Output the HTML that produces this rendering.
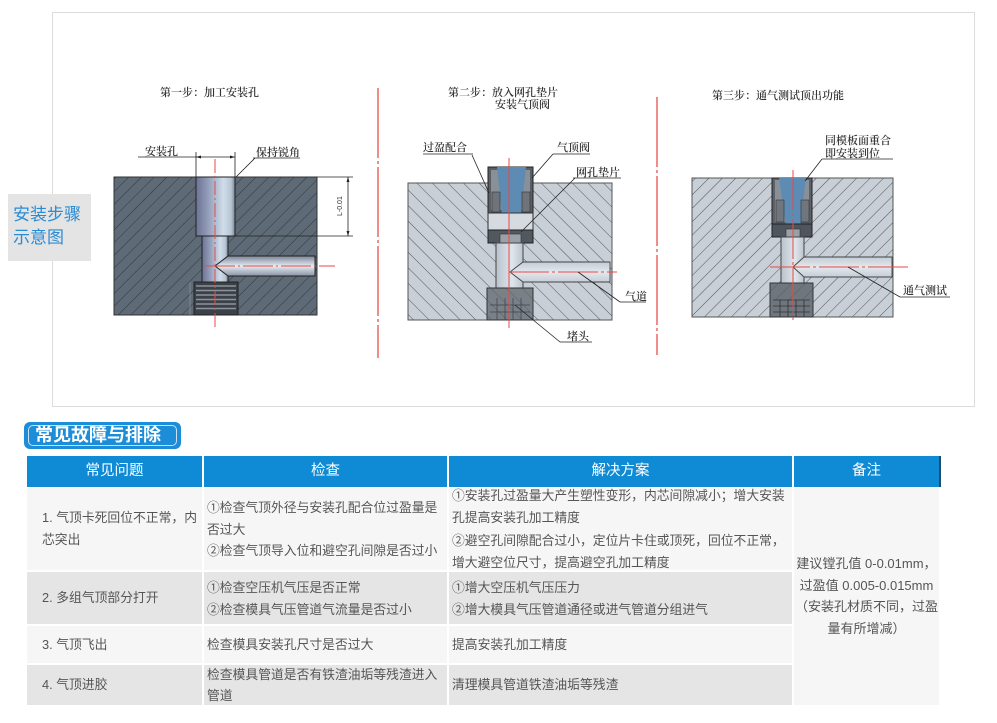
<!DOCTYPE html>
<html><head><meta charset="utf-8">
<style>
html,body{margin:0;padding:0;}
body{width:997px;height:723px;position:relative;overflow:hidden;background:#fff;font-family:"Liberation Sans","Noto Sans CJK SC",sans-serif;}
.abs{position:absolute;}
.lbl{left:8px;top:194px;width:83px;height:67px;background:#e4e4e4;color:#2a8bd5;font-size:17px;line-height:23px;padding:9px 0 0 5px;box-sizing:border-box;}
.badge{left:24px;top:422px;width:157px;height:27px;background:#1c8dd8;border-radius:6px;}
.badge .in{position:absolute;left:4px;top:3px;right:4px;bottom:3px;border:1px solid rgba(255,255,255,.75);border-radius:5px;}
.badge .t{position:absolute;left:11px;top:0;line-height:27px;color:#fff;font-size:18px;font-weight:bold;white-space:nowrap;}
.hd{top:456px;height:31px;background:#0f8bd5;color:#fff;font-size:14.5px;line-height:31px;text-align:center;}
.cell{position:absolute;}
.tx{position:absolute;color:#555;font-size:12.8px;white-space:nowrap;}
</style></head><body>

<svg class="abs" style="left:0;top:0" width="997" height="410" viewBox="0 0 997 410">
<defs>
<pattern id="h1" width="9" height="9" patternUnits="userSpaceOnUse" patternTransform="rotate(45)"><line x1="0" y1="0" x2="0" y2="9" stroke="#2c3640" stroke-width="1"/></pattern>
<pattern id="h2" width="11" height="11" patternUnits="userSpaceOnUse" patternTransform="rotate(-45)"><line x1="0" y1="0" x2="0" y2="11" stroke="#505459" stroke-width="1"/></pattern>
<pattern id="h3" width="9.5" height="9.5" patternUnits="userSpaceOnUse" patternTransform="rotate(45)"><line x1="0" y1="0" x2="0" y2="9.5" stroke="#505459" stroke-width="1"/></pattern>
<linearGradient id="g1" x1="0" x2="1" y1="0" y2="0">
<stop offset="0" stop-color="#6c7293"/><stop offset="0.35" stop-color="#98a4bf"/><stop offset="0.7" stop-color="#d0dde9"/><stop offset="0.9" stop-color="#b7c5d4"/><stop offset="1" stop-color="#7b8696"/></linearGradient>
<linearGradient id="g2" x1="0" x2="0" y1="0" y2="1">
<stop offset="0" stop-color="#7a8498"/><stop offset="0.5" stop-color="#e4ecf3"/><stop offset="1" stop-color="#8893a4"/></linearGradient>
<linearGradient id="g3" x1="0" x2="1" y1="0" y2="0">
<stop offset="0" stop-color="#b9c3cd"/><stop offset="0.6" stop-color="#dfe5eb"/><stop offset="1" stop-color="#bcc5ce"/></linearGradient>
<linearGradient id="g4" x1="0" x2="0" y1="0" y2="1">
<stop offset="0" stop-color="#c3ccd5"/><stop offset="0.5" stop-color="#e3e8ed"/><stop offset="1" stop-color="#c5cdd6"/></linearGradient>
</defs>

<rect x="52.5" y="12.5" width="922" height="394" fill="none" stroke="#dcdcdc" stroke-width="1"/>

<line x1="378" y1="88" x2="378" y2="358" stroke="#e8403a" stroke-width="1.2" stroke-dasharray="70,3,3,3"/>
<line x1="657" y1="97" x2="657" y2="355" stroke="#e8403a" stroke-width="1.2" stroke-dasharray="70,3,3,3"/>

<g font-family="'Noto Serif CJK SC','Noto Sans CJK SC',serif" font-size="11" fill="#333" font-weight="600">
<text x="160" y="96">第一步：加工安装孔</text>
<rect x="114" y="177" width="203" height="138" fill="#5e6b77"/>
<rect x="114" y="177" width="203" height="138" fill="url(#h1)"/>
<rect x="114" y="177" width="203" height="138" fill="none" stroke="#333" stroke-width="1"/>
<rect x="196" y="177" width="39" height="59" fill="url(#g1)" stroke="#222" stroke-width="1"/>
<rect x="202" y="236" width="26" height="46" fill="url(#g1)" stroke="#222" stroke-width="1"/>
<polygon points="228,256 315,256 315,276 228,276 215,266" fill="url(#g2)" stroke="#222" stroke-width="1"/>
<rect x="194" y="282" width="44" height="33" fill="#3c4148" stroke="#222"/>
<g stroke="#8d949d" stroke-width="1.6">
<line x1="196" y1="286" x2="236" y2="286"/><line x1="196" y1="290.5" x2="236" y2="290.5"/><line x1="196" y1="295" x2="236" y2="295"/><line x1="196" y1="299.5" x2="236" y2="299.5"/><line x1="196" y1="304" x2="236" y2="304"/><line x1="196" y1="308.5" x2="236" y2="308.5"/>
</g>
<line x1="190" y1="282" x2="190" y2="315" stroke="#999" stroke-width="0.6"/>
<line x1="215" y1="159" x2="215" y2="330" stroke="#ea4a44" stroke-width="1" stroke-dasharray="14,3,2,3"/>
<line x1="205" y1="266" x2="335" y2="266" stroke="#ea4a44" stroke-width="1" stroke-dasharray="30,3,2,3"/>
<g stroke="#222" stroke-width="0.8" fill="none">
<line x1="196" y1="152" x2="196" y2="177"/><line x1="235" y1="152" x2="235" y2="177"/>
<line x1="138" y1="157" x2="235" y2="157"/>
<line x1="253" y1="158" x2="300" y2="158"/><line x1="255" y1="158" x2="236" y2="177"/>
<line x1="317" y1="177" x2="353" y2="177"/><line x1="235" y1="236" x2="353" y2="236"/>
<line x1="348" y1="177" x2="348" y2="236"/>
</g>
<polygon points="196,157 201,155.5 201,158.5" fill="#222"/><polygon points="235,157 230,155.5 230,158.5" fill="#222"/>
<polygon points="348,177 346.5,182 349.5,182" fill="#222"/><polygon points="348,236 346.5,231 349.5,231" fill="#222"/>
<text x="145" y="155">安装孔</text>
<text x="256" y="156">保持锐角</text>
<text x="0" y="0" font-size="7" font-family="'Liberation Sans',sans-serif" font-weight="normal" transform="translate(342 216) rotate(-90)">L-0.01</text>

<text x="448" y="96">第二步：放入网孔垫片</text>
<text x="495" y="108">安装气顶阀</text>
<rect x="408" y="183" width="204" height="137" fill="#c9cfd6"/>
<rect x="408" y="183" width="204" height="137" fill="url(#h2)"/>
<rect x="408" y="183" width="204" height="137" fill="none" stroke="#555" stroke-width="1"/>
<rect x="488" y="167" width="45" height="46" fill="#5a5f66" stroke="#222"/>
<rect x="491" y="170" width="39" height="40" fill="#8a9097"/>
<polygon points="497,167 526,167 521,213 502,213" fill="#5d8bb4"/>
<rect x="492" y="192" width="8" height="20" fill="#6e747b" stroke="#333" stroke-width="0.6"/>
<rect x="522" y="192" width="8" height="20" fill="#6e747b" stroke="#333" stroke-width="0.6"/>
<rect x="488" y="213" width="45" height="17" fill="#d5dbe1" stroke="#333"/>
<rect x="488" y="230" width="45" height="13" fill="#52585f" stroke="#222"/>
<rect x="500" y="234" width="21" height="9" fill="#9aa0a7" stroke="#333" stroke-width="0.6"/>
<rect x="496" y="243" width="27" height="45" fill="url(#g3)" stroke="#444"/>
<polygon points="523,262 610,262 610,282 523,282 510,272" fill="url(#g4)" stroke="#444" stroke-width="0.9"/>
<rect x="487" y="288" width="46" height="32" fill="#7a8087" stroke="#333"/>
<rect x="487" y="288" width="46" height="32" fill="url(#h2)" opacity="0.7"/>
<g stroke="#3e4349" stroke-width="0.7"><line x1="497" y1="298" x2="497" y2="320"/><line x1="505" y1="298" x2="505" y2="320"/><line x1="513" y1="298" x2="513" y2="320"/><line x1="521" y1="298" x2="521" y2="320"/><line x1="490" y1="305" x2="530" y2="305"/><line x1="490" y1="312" x2="530" y2="312"/></g>
<line x1="509" y1="158" x2="509" y2="328" stroke="#ea4a44" stroke-width="1"/>
<line x1="509" y1="272" x2="617" y2="272" stroke="#ea4a44" stroke-width="1" stroke-dasharray="40,3,3,3"/>
<g stroke="#222" stroke-width="0.8" fill="none">
<line x1="423" y1="154" x2="473" y2="154"/><line x1="472" y1="155" x2="489" y2="193"/>
<line x1="553" y1="154" x2="590" y2="154"/><line x1="553" y1="154" x2="532" y2="178"/>
<line x1="573" y1="178" x2="621" y2="178"/><line x1="575" y1="178" x2="521" y2="232"/>
<line x1="620" y1="302" x2="646" y2="302"/><line x1="620" y1="302" x2="578" y2="272"/>
<line x1="560" y1="342" x2="592" y2="342"/><line x1="560" y1="342" x2="515" y2="305"/>
</g>
<text x="423" y="151">过盈配合</text>
<text x="557" y="151">气顶阀</text>
<text x="576" y="176">网孔垫片</text>
<text x="625" y="300">气道</text>
<text x="567" y="340">堵头</text>

<text x="712" y="99">第三步：通气测试顶出功能</text>
<rect x="692" y="178" width="201" height="139" fill="#c8cfd7"/>
<rect x="692" y="178" width="201" height="139" fill="url(#h3)"/>
<rect x="692" y="178" width="201" height="139" fill="none" stroke="#555" stroke-width="1"/>
<rect x="772" y="178" width="40" height="59" fill="#5d6269" stroke="#222"/>
<rect x="775" y="180" width="34" height="42" fill="#8a9097"/>
<polygon points="779,178 806,178 800,226 786,226" fill="#5d8bb4"/>
<rect x="776" y="200" width="8" height="22" fill="#70767d" stroke="#333" stroke-width="0.6"/>
<rect x="801" y="200" width="8" height="22" fill="#70767d" stroke="#333" stroke-width="0.6"/>
<rect x="772" y="224" width="40" height="13" fill="#4f555c" stroke="#222"/>
<rect x="786" y="229" width="14" height="8" fill="#9aa0a7" stroke="#333" stroke-width="0.6"/>
<rect x="781" y="237" width="23" height="46" fill="url(#g3)" stroke="#444"/>
<polygon points="804,257 892,257 892,277 804,277 793,267" fill="url(#g4)" stroke="#444" stroke-width="0.9"/>
<rect x="770" y="283" width="43" height="34" fill="#70767d" stroke="#333"/>
<rect x="770" y="283" width="43" height="17" fill="url(#h3)" opacity="0.7"/>
<g stroke="#2f3338" stroke-width="0.8"><line x1="773" y1="300" x2="810" y2="300"/><line x1="773" y1="306" x2="810" y2="306"/><line x1="773" y1="312" x2="810" y2="312"/><line x1="780" y1="300" x2="780" y2="317"/><line x1="788" y1="300" x2="788" y2="317"/><line x1="796" y1="300" x2="796" y2="317"/><line x1="804" y1="300" x2="804" y2="317"/></g>
<line x1="793" y1="170" x2="793" y2="320" stroke="#ea4a44" stroke-width="1" stroke-dasharray="40,3,3,3"/>
<line x1="770" y1="267" x2="908" y2="267" stroke="#ea4a44" stroke-width="1" stroke-dasharray="40,3,3,3"/>
<g stroke="#222" stroke-width="0.8" fill="none">
<line x1="822" y1="159" x2="893" y2="159"/><line x1="822" y1="159" x2="805" y2="181"/>
<line x1="900" y1="297" x2="950" y2="297"/><line x1="900" y1="297" x2="848" y2="267"/>
</g>
<text x="825" y="144">同模板面重合</text>
<text x="825" y="157">即安装到位</text>
<text x="903" y="294">通气测试</text>
</g>
</svg>

<div class="abs lbl">安装步骤<br>示意图</div>

<div class="abs badge"><div class="in"></div><div class="t">常见故障与排除</div></div>

<div class="abs hd" style="left:27px;width:175px;">常见问题</div>
<div class="abs hd" style="left:204px;width:243px;">检查</div>
<div class="abs hd" style="left:449px;width:343px;">解决方案</div>
<div class="abs hd" style="left:794px;width:145px;">备注</div>
<div class="abs" style="left:939px;top:456px;width:2px;height:31px;background:#1d4d70;"></div>

<div class="cell" style="left:27px;top:488px;width:175px;height:82px;background:#f6f6f6"></div>
<div class="cell" style="left:204px;top:488px;width:243px;height:82px;background:#f6f6f6"></div>
<div class="cell" style="left:449px;top:488px;width:343px;height:82px;background:#f6f6f6"></div>

<div class="cell" style="left:27px;top:572px;width:175px;height:52px;background:#e5e5e5"></div>
<div class="cell" style="left:204px;top:572px;width:243px;height:52px;background:#e5e5e5"></div>
<div class="cell" style="left:449px;top:572px;width:343px;height:52px;background:#e5e5e5"></div>

<div class="cell" style="left:27px;top:626px;width:175px;height:37px;background:#f6f6f6"></div>
<div class="cell" style="left:204px;top:626px;width:243px;height:37px;background:#f6f6f6"></div>
<div class="cell" style="left:449px;top:626px;width:343px;height:37px;background:#f6f6f6"></div>

<div class="cell" style="left:27px;top:665px;width:175px;height:40px;background:#e5e5e5"></div>
<div class="cell" style="left:204px;top:665px;width:243px;height:40px;background:#e5e5e5"></div>
<div class="cell" style="left:449px;top:665px;width:343px;height:40px;background:#e5e5e5"></div>

<div class="cell" style="left:794px;top:488px;width:145px;height:217px;background:#f6f6f6"></div>

<div class="tx" style="left:42px;top:507px;line-height:22px;">1. 气顶卡死回位不正常，内<br>芯突出</div>
<div class="tx" style="left:207px;top:497px;line-height:21.5px;">①检查气顶外径与安装孔配合位过盈量是<br>否过大<br>②检查气顶导入位和避空孔间隙是否过小</div>
<div class="tx" style="left:452px;top:485px;line-height:22.3px;">①安装孔过盈量大产生塑性变形，内芯间隙减小；增大安装<br>孔提高安装孔加工精度<br>②避空孔间隙配合过小，定位片卡住或顶死，回位不正常，<br>增大避空位尺寸，提高避空孔加工精度</div>

<div class="tx" style="left:42px;top:587px;line-height:22px;">2. 多组气顶部分打开</div>
<div class="tx" style="left:207px;top:577px;line-height:22px;">①检查空压机气压是否正常<br>②检查模具气压管道气流量是否过小</div>
<div class="tx" style="left:452px;top:577px;line-height:22px;">①增大空压机气压压力<br>②增大模具气压管道通径或进气管道分组进气</div>

<div class="tx" style="left:42px;top:634px;line-height:22px;">3. 气顶飞出</div>
<div class="tx" style="left:207px;top:634px;line-height:22px;">检查模具安装孔尺寸是否过大</div>
<div class="tx" style="left:452px;top:634px;line-height:22px;">提高安装孔加工精度</div>

<div class="tx" style="left:42px;top:674px;line-height:22px;">4. 气顶进胶</div>
<div class="tx" style="left:207px;top:664px;line-height:21px;">检查模具管道是否有铁渣油垢等残渣进入<br>管道</div>
<div class="tx" style="left:452px;top:674px;line-height:22px;">清理模具管道铁渣油垢等残渣</div>

<div class="tx" style="left:794px;top:553px;width:145px;text-align:center;line-height:21.7px;font-size:13px;">建议镗孔值 0-0.01mm，<br>过盈值 0.005-0.015mm<br>（安装孔材质不同，过盈<br>量有所增减）</div>

</body></html>
